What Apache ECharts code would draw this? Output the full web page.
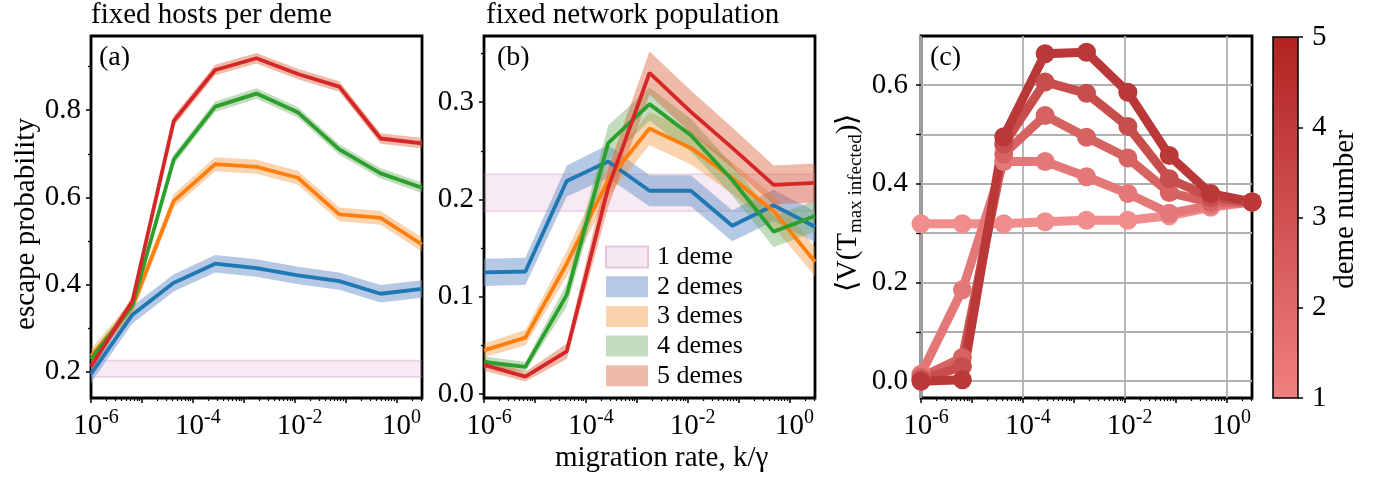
<!DOCTYPE html>
<html><head><meta charset="utf-8">
<script src="https://cdn.jsdelivr.net/npm/echarts@6/dist/echarts.min.js"></script>
<style>html,body{margin:0;padding:0;background:#fff}#chart{width:1378px;height:478px}</style>
</head><body><div id="chart"></div>
<script>
// ---------- data ----------
const rates = [1e-6, 6.494e-6, 4.217e-5, 2.738e-4, 1.778e-3, 1.155e-2, 7.499e-2, 0.487, 3.162];
const demeNames = ['2 demes', '3 demes', '4 demes', '5 demes'];
// (a) fixed hosts per deme – escape probability
const hosts2 = [0.195, 0.331, 0.404, 0.448, 0.438, 0.421, 0.408, 0.379, 0.390];
const hosts3 = [0.236, 0.349, 0.592, 0.676, 0.670, 0.645, 0.561, 0.553, 0.492];
const hosts4 = [0.229, 0.352, 0.687, 0.808, 0.838, 0.795, 0.710, 0.655, 0.622];
const hosts5 = [0.212, 0.362, 0.775, 0.892, 0.919, 0.883, 0.854, 0.735, 0.724];
const hostsErr = [0.020, 0.016, 0.012, 0.012];
// (b) fixed network population – escape probability
const pop2 = [0.125, 0.126, 0.219, 0.239, 0.209, 0.209, 0.173, 0.194, 0.172];
const pop3 = [0.045, 0.058, 0.134, 0.220, 0.273, 0.253, 0.222, 0.188, 0.136];
const pop4 = [0.033, 0.028, 0.102, 0.258, 0.298, 0.266, 0.220, 0.167, 0.183];
const pop5 = [0.030, 0.018, 0.044, 0.212, 0.330, 0.290, 0.253, 0.215, 0.217];
const pop2Err = [0.014, 0.014, 0.016, 0.017, 0.016, 0.016, 0.016, 0.016, 0.016];
const pop3Err = [0.007, 0.008, 0.013, 0.017, 0.017, 0.017, 0.016, 0.016, 0.015];
const pop4Err = [0.006, 0.005, 0.012, 0.018, 0.017, 0.017, 0.016, 0.016, 0.016];
const pop5Err = [0.006, 0.005, 0.008, 0.020, 0.022, 0.022, 0.021, 0.020, 0.020];
// 1 deme reference band
const oneDemeMean = 0.207, oneDemeErr = 0.019;
// (c) <V(T_max infected)> per deme number
const var1 = [0.319, 0.319, 0.319, 0.323, 0.326, 0.326, 0.335, 0.352, 0.363];
const var2 = [0.014, 0.185, 0.445, 0.445, 0.414, 0.380, 0.340, 0.356, 0.363];
const var3 = [0.008, 0.048, 0.460, 0.538, 0.494, 0.452, 0.382, 0.362, 0.363];
const var4 = [0.003, 0.030, 0.480, 0.606, 0.583, 0.516, 0.410, 0.372, 0.363];
const var5 = [0.000, 0.003, 0.495, 0.663, 0.666, 0.585, 0.457, 0.380, 0.363];
// tick labels
const xLabelExps = [-6, -4, -2, 0];
const yLabelsA = [0.2, 0.4, 0.6, 0.8];
const yLabelsB = [0.0, 0.1, 0.2, 0.3];
const yLabelsC = [0.0, 0.2, 0.4, 0.6];
const demeTicks = [1, 2, 3, 4, 5];

// ---------- styles ----------
const FONT = "'Liberation Serif','Times New Roman',serif";
const lineColors = ['#1f77b4', '#ff7f0e', '#2ca02c', '#d62728'];
const bandColors = ['rgba(120,155,205,0.55)', 'rgba(243,147,55,0.4)', 'rgba(102,167,92,0.4)', 'rgba(217,82,40,0.4)'];
const pinkFill = 'rgba(214,150,196,0.2)', pinkEdge = 'rgba(200,140,185,0.35)';
const cbTop = [178, 34, 34], cbBot = [240, 128, 128];
function demeColor(k) {
  const t = (k - 1) / 4;
  const c = cbBot.map((b, i) => b + (cbTop[i] - b) * t);
  const m = c.map(v => Math.round(255 - 0.9 * (255 - v)));
  return `rgb(${m[0]},${m[1]},${m[2]})`;
}

const decadeTicks = [-6, -5, -4, -3, -2, -1, 0];
const minorExps = [];
for (let n = -6; n <= 0; n++) for (let k = 2; k <= 9; k++) { const e = n + Math.log10(k); if (e <= 0.5) minorExps.push(e); }
const xMinExp = Math.log10(rates[0]), xMaxExp = Math.log10(rates[rates.length - 1]);
function halfSteps(labels, step) { return labels.map(v => +(v + step).toFixed(3)); }
const noLine = { show: false, onZero: false };

const grids = [
  { left: 91, top: 36, width: 331, height: 362 },
  { left: 484, top: 36, width: 331, height: 362 },
  { left: 921, top: 36, width: 331, height: 362 }
].map(g => Object.assign(g, { show: true, borderColor: '#000', borderWidth: 2.8, backgroundColor: 'transparent' }));
grids.push({ left: 1273, top: 37, width: 25, height: 361, show: true, borderColor: '#000', borderWidth: 1.5,
  backgroundColor: { type: 'linear', x: 0, y: 0, x2: 0, y2: 1, colorStops: [
    { offset: 0, color: `rgb(${cbTop.join(',')})` }, { offset: 1, color: `rgb(${cbBot.join(',')})` }] } });

const xAxes = [], yAxes = [];
const xLogIdx = [], yMainIdx = [];
const tickLine = { color: '#000', width: 1.5 };
const richX = {
  b: { fontFamily: FONT, fontSize: 29, lineHeight: 34, color: '#000' },
  s: { fontFamily: FONT, fontSize: 20, lineHeight: 18, height: 18, verticalAlign: 'top', color: '#000' }
};
for (let g = 0; g < 3; g++) {
  xLogIdx.push(xAxes.length);
  xAxes.push({ gridIndex: g, type: 'log', logBase: 10, min: rates[0], max: rates[rates.length - 1], show: false,
    position: 'bottom', axisLine: noLine });
  xAxes.push({ gridIndex: g, type: 'value', position: 'bottom', min: xMinExp, max: xMaxExp,
    axisLine: noLine, splitLine: { show: false },
    axisTick: { show: true, customValues: decadeTicks, length: 5, lineStyle: tickLine },
    axisLabel: { customValues: xLabelExps, margin: 11, padding: [0, 0, 0, 10],
      formatter: v => '{b|10}{s|' + (v === 0 ? '0' : '-' + Math.abs(v)) + '}', rich: richX } });
  xAxes.push({ gridIndex: g, type: 'value', position: 'bottom', min: xMinExp, max: xMaxExp,
    axisLine: noLine, splitLine: { show: false }, axisLabel: { show: false },
    axisTick: { show: true, customValues: minorExps, length: 3, lineStyle: { color: '#000', width: 1.2 } } });
}
// vertical grid lines for (c)
xAxes.push({ gridIndex: 2, type: 'value', position: 'bottom', min: xMinExp, max: xMaxExp,
  axisLine: noLine, axisLabel: { show: false },
  axisTick: { show: false, customValues: xLabelExps },
  splitLine: { show: true, lineStyle: { color: '#b0b0b0', width: 1.8 } } });
xAxes.push({ gridIndex: 3, type: 'value', min: 0, max: 1, show: false, axisLine: noLine });

const yDefs = [
  { min: 0.14, max: 0.97, labels: yLabelsA, minor: halfSteps(yLabelsA, 0.1), margin: 10 },
  { min: -0.004, max: 0.368, labels: yLabelsB, minor: halfSteps(yLabelsB, 0.05), margin: 10 },
  { min: -0.034, max: 0.699, labels: yLabelsC, minor: halfSteps(yLabelsC.slice(0, 3), 0.1), margin: 13 }
];
yDefs.forEach((d, g) => {
  yMainIdx.push(yAxes.length);
  yAxes.push({ gridIndex: g, type: 'value', position: 'left', min: d.min, max: d.max,
    axisLine: noLine,
    axisTick: { show: true, customValues: d.labels, length: 5, lineStyle: tickLine },
    axisLabel: { customValues: d.labels, margin: d.margin, formatter: v => v.toFixed(1),
      fontFamily: FONT, fontSize: 29, color: '#000' },
    splitLine: { show: false } });
  yAxes.push({ gridIndex: g, type: 'value', position: 'left', min: d.min, max: d.max,
    axisLine: noLine, axisLabel: { show: false }, splitLine: { show: false },
    axisTick: { show: true, customValues: d.minor, length: g === 2 ? 5 : 3, lineStyle: { color: '#000', width: 1.3 } } });
});
Object.assign(yAxes[yMainIdx[0]], { name: 'escape probability', nameLocation: 'middle', nameRotate: 90, nameGap: 49,
  nameTextStyle: { fontFamily: FONT, fontSize: 29, color: '#000', padding: [0, 14, 0, 0] } });
Object.assign(yAxes[yMainIdx[2]], { name: '{t|⟨V(T}{s|max infected}{t|)⟩}', nameLocation: 'middle', nameRotate: 90, nameGap: 56,
  nameTextStyle: { fontFamily: FONT, fontSize: 29, color: '#000', padding: [0, 0, 0, 28],
    rich: { t: { fontFamily: FONT, fontSize: 29, lineHeight: 34, color: '#000' },
            s: { fontFamily: FONT, fontSize: 19, lineHeight: 18, height: 18, verticalAlign: 'bottom', color: '#000' } } } });
// horizontal grid lines for (c)
yAxes.push({ gridIndex: 2, type: 'value', position: 'left', min: yDefs[2].min, max: yDefs[2].max,
  axisLine: noLine, axisLabel: { show: false },
  axisTick: { show: false, customValues: [0, 0.1, 0.2, 0.3, 0.4, 0.5, 0.6] },
  splitLine: { show: true, lineStyle: { color: '#b0b0b0', width: 1.8 } } });
yAxes.push({ gridIndex: 3, type: 'value', position: 'right', min: 1, max: 5, interval: 1,
  axisLine: noLine, splitLine: { show: false },
  axisTick: { show: true, length: 5, lineStyle: tickLine, customValues: demeTicks },
  axisLabel: { margin: 14, fontFamily: FONT, fontSize: 29, color: '#000', customValues: demeTicks },
  name: 'deme number', nameLocation: 'middle', nameRotate: 90, nameGap: 29,
  nameTextStyle: { fontFamily: FONT, fontSize: 29, color: '#000', padding: [0, 0, 0, 16] } });

// ---------- series ----------
const series = [];
function addBand(name, g, lo, hi, fill, edge, edgeW) {
  series.push({ type: 'custom', name: name, xAxisIndex: xLogIdx[g], yAxisIndex: yMainIdx[g],
    data: rates.map((x, i) => [x, lo[i], hi[i]]), encode: { x: 0, y: [1, 2] },
    silent: true, z: 2, itemStyle: { color: fill },
    renderItem: function (params, api) {
      if (params.dataIndex !== 0) return null;
      const top = rates.map((x, i) => api.coord([x, hi[i]]));
      const bot = rates.map((x, i) => api.coord([x, lo[i]]));
      const children = [{ type: 'polygon', shape: { points: top.concat(bot.slice().reverse()) },
        style: { fill: fill, stroke: null } }];
      if (edge) {
        children.push({ type: 'polyline', shape: { points: top }, style: { stroke: edge, lineWidth: edgeW, fill: null } });
        children.push({ type: 'polyline', shape: { points: bot }, style: { stroke: edge, lineWidth: edgeW, fill: null } });
      }
      return { type: 'group', children: children };
    } });
}
function addLine(name, g, vals, color) {
  series.push({ type: 'line', name: name, xAxisIndex: xLogIdx[g], yAxisIndex: yMainIdx[g],
    data: rates.map((x, i) => [x, vals[i]]), symbol: 'none', silent: true,
    lineStyle: { width: 3.8, color: color }, itemStyle: { color: color }, z: 2 });
}
const oneLo = rates.map(() => oneDemeMean - oneDemeErr), oneHi = rates.map(() => oneDemeMean + oneDemeErr);
// (a)
addBand('a 1 deme', 0, oneLo, oneHi, pinkFill, pinkEdge, 1.5);
[hosts2, hosts3, hosts4, hosts5].forEach((v, k) => {
  addBand('a ' + demeNames[k], 0, v.map(y => y - hostsErr[k]), v.map(y => y + hostsErr[k]), bandColors[k], null, 0);
  addLine('a line ' + demeNames[k], 0, v, lineColors[k]);
});
// (b)
addBand('1 deme', 1, oneLo, oneHi, pinkFill, pinkEdge, 1.5);
[[pop2, pop2Err], [pop3, pop3Err], [pop4, pop4Err], [pop5, pop5Err]].forEach(([v, e], k) => {
  addBand(demeNames[k], 1, v.map((y, i) => y - e[i]), v.map((y, i) => y + e[i]), bandColors[k], null, 0);
  addLine('b line ' + demeNames[k], 1, v, lineColors[k]);
});
// (c)
[var1, var2, var3, var4, var5].forEach((v, k) => {
  const c = demeColor(k + 1);
  series.push({ type: 'line', name: 'c deme ' + (k + 1), xAxisIndex: xLogIdx[2], yAxisIndex: yMainIdx[2],
    data: rates.map((x, i) => [x, v[i]]), symbol: 'circle', symbolSize: 19, showAllSymbol: true, clip: false,
    lineStyle: { width: 9, color: c }, itemStyle: { color: c }, z: 3, silent: true });
});

const T = { fontFamily: FONT, fontSize: 29, fontWeight: 'normal', color: '#000' };
const option = {
  animation: false,
  backgroundColor: '#fff',
  title: [
    { text: 'fixed hosts per deme', left: 91, top: 1, padding: 0, textStyle: T },
    { text: 'fixed network population', left: 486, top: 1, padding: 0, textStyle: T },
    { text: '(a)', left: 99, top: 44, padding: 0, textStyle: Object.assign({}, T, { fontSize: 28 }) },
    { text: '(b)', left: 497, top: 44, padding: 0, textStyle: Object.assign({}, T, { fontSize: 28 }) },
    { text: '(c)', left: 930, top: 44, padding: 0, textStyle: Object.assign({}, T, { fontSize: 28 }) },
    { text: 'migration rate, k/γ', left: 555, top: 444, padding: 0, textStyle: T }
  ],
  legend: {
    left: 605, top: 244, orient: 'vertical', padding: 0, itemWidth: 42, itemHeight: 21, itemGap: 3.7,
    icon: 'rect', selectedMode: false,
    textStyle: { fontFamily: FONT, fontSize: 26, color: '#000', lineHeight: 26, padding: [0, 0, 0, 4] },
    data: [{ name: '1 deme', itemStyle: { color: '#f5e8f1', borderColor: '#e3c8db', borderWidth: 2 } }]
      .concat(demeNames.map((n, k) => ({ name: n, itemStyle: { color: bandColors[k], borderWidth: 0 } })))
  },
  grid: grids,
  xAxis: xAxes,
  yAxis: yAxes,
  series: series
};
const chart = echarts.init(document.getElementById('chart'), null, { renderer: 'canvas' });
chart.setOption(option);
</script></body></html>
